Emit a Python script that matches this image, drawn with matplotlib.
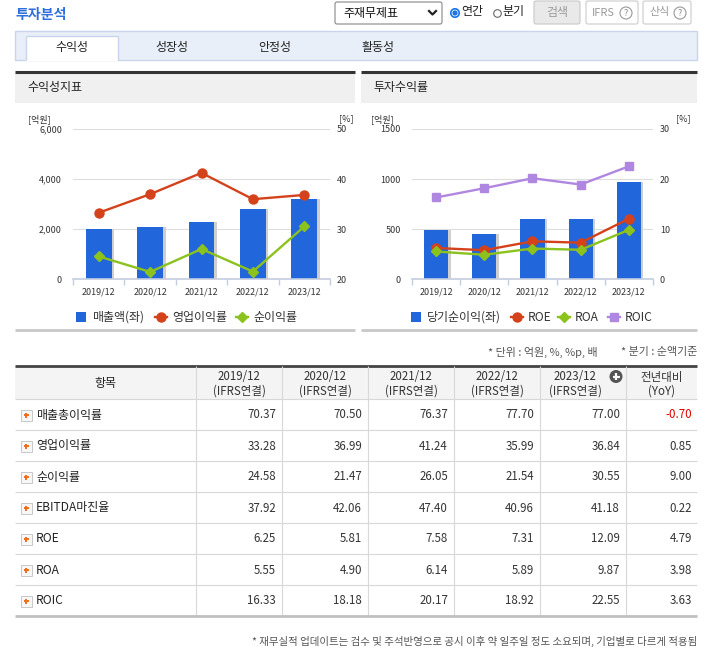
import numpy as np
import matplotlib
matplotlib.use('Agg')
import matplotlib.pyplot as plt
from matplotlib.patches import Rectangle, FancyBboxPatch, Circle

plt.rcParams['font.family'] = ['Noto Sans CJK KR', 'DejaVu Sans']

# ---- data ----
years = ['2019/12', '2020/12', '2021/12', '2022/12', '2023/12']
sales = [2015, 2105, 2300, 2795, 3190]          # 매출액 (억원)
net_income = [495, 450, 597, 602, 975]          # 당기순이익 (억원)
gross_margin = [70.37, 70.50, 76.37, 77.70, 77.00]
op_margin = [33.28, 36.99, 41.24, 35.99, 36.84]
net_margin = [24.58, 21.47, 26.05, 21.54, 30.55]
ebitda_margin = [37.92, 42.06, 47.40, 40.96, 41.18]
roe = [6.25, 5.81, 7.58, 7.31, 12.09]
roa = [5.55, 4.90, 6.14, 5.89, 9.87]
roic = [16.33, 18.18, 20.17, 18.92, 22.55]
yoy = ['-0.70', '0.85', '9.00', '0.22', '4.79', '3.98', '3.63']
row_names = ['매출총이익률', '영업이익률', '순이익률', 'EBITDA마진율', 'ROE', 'ROA', 'ROIC']

W, H = 709, 649
fig = plt.figure(figsize=(W / 100, H / 100), dpi=100)
bg = fig.add_axes([0, 0, 1, 1])
bg.set_xlim(0, W)
bg.set_ylim(H, 0)
bg.axis('off')

def fs(px):
    return px * 0.72

def rect(x, y, w, h, fc='none', ec='none', lw=0, z=1):
    bg.add_patch(Rectangle((x, y), w, h, facecolor=fc, edgecolor=ec, linewidth=lw, zorder=z))

def hline(y, x0, x1, c, lw, z=3):
    bg.plot([x0, x1], [y, y], color=c, lw=lw, solid_capstyle='butt', zorder=z)

def vline(x, y0, y1, c, lw, z=3):
    bg.plot([x, x], [y0, y1], color=c, lw=lw, solid_capstyle='butt', zorder=z)

def txt(x, y, s, size=12, color='#333333', ha='left', **kw):
    bg.text(x, y, s, fontsize=fs(size), color=color, ha=ha, va='center', zorder=5, **kw)

BLUE = '#2166db'
RED = '#d4421c'
GREEN = '#8cc21e'
PURPLE = '#b087e0'

# ---- top bar ----
txt(15, 15, '투자분석', 14, '#2f6fdc', weight='bold')
bg.add_patch(FancyBboxPatch((335, 2), 107, 22, boxstyle='round,pad=0,rounding_size=2',
                            fc='white', ec='#888888', lw=0.8, zorder=2))
txt(343, 13, '주재무제표', 12, '#111111')
bg.plot([429, 432.5, 436], [11, 14.5, 11], color='#222222', lw=1.6, zorder=5)
bg.add_patch(Circle((455, 13), 4.2, fc='white', ec='#1a73e8', lw=1.2, zorder=4))
bg.add_patch(Circle((455, 13), 2.6, fc='#1a73e8', ec='none', zorder=5))
txt(461, 12, '연간', 12, '#222222')
bg.add_patch(Circle((497.5, 13.5), 3.8, fc='white', ec='#666666', lw=0.8, zorder=4))
txt(502, 12, '분기', 12, '#222222')
bg.add_patch(FancyBboxPatch((534, 1), 46, 23, boxstyle='round,pad=0,rounding_size=2',
                            fc='#e9e9e9', ec='#c8c8c8', lw=0.8, zorder=2))
txt(557, 12.5, '검색', 12, '#9a9a9a', ha='center')
for x0, lab in [(586, 'IFRS'), (643, '산식')]:
    bg.add_patch(FancyBboxPatch((x0, 1), 52 if lab == 'IFRS' else 48, 23,
                                boxstyle='round,pad=0,rounding_size=2',
                                fc='white', ec='#cccccc', lw=0.8, zorder=2))
    txt(x0 + 6, 12.5, lab, 11, '#999999')
    cx = x0 + (40 if lab == 'IFRS' else 37)
    bg.add_patch(Circle((cx, 13), 6, fc='white', ec='#999999', lw=0.8, zorder=4))
    txt(cx, 13, '?', 9, '#888888', ha='center')

# ---- tabs ----
rect(15, 31, 682, 29, fc='#e9eff8', ec='#c9d5ea', lw=1)
rect(26, 36, 92, 25, fc='white', ec='none', z=2)
vline(26, 36, 60, '#c9d5ea', 1)
vline(118, 36, 60, '#c9d5ea', 1)
hline(36, 26, 118, '#c9d5ea', 1)
for cx, lab in [(72, '수익성'), (172, '성장성'), (275, '안정성'), (378, '활동성')]:
    txt(cx, 48, lab, 12, '#222222', ha='center')

# ---- section headers ----
for x0, x1, lab in [(15, 355, '수익성지표'), (361, 697, '투자수익률')]:
    rect(x0, 73, x1 - x0, 30, fc='#f0f0f0')
    hline(72, x0, x1, '#333333', 2.2)
    txt(x0 + 12, 88, lab, 12, '#222222')
    hline(330, x0, x1, '#c8c8c8', 2)

# ---- charts ----
def chart(left, right, bars, bmax, bticks, blabels, pmin, pmax, pticks, series):
    top, bottom = 129, 279.3
    ax = fig.add_axes([left / W, 1 - bottom / H, (right - left) / W, (bottom - top) / H])
    x = np.arange(len(years))
    ax.bar(x + 0.05, bars, width=0.5, color='#cfcfcf', zorder=1)
    ax.bar(x, bars, width=0.5, color=BLUE, zorder=2)
    ax.set_xlim(-0.5, len(years) - 0.5)
    ax.set_ylim(0, bmax)
    ax.set_yticks(bticks)
    ax.set_yticklabels(blabels)
    ax.set_xticks(x)
    ax.set_xticklabels(years)
    ax.set_xticks(np.arange(-0.5, len(years)), minor=True)
    ax.tick_params(axis='x', which='major', length=0, labelsize=fs(9), colors='#333333', pad=6)
    ax.tick_params(axis='x', which='minor', length=4, color='#c3cde0', width=1)
    ax.tick_params(axis='y', length=0, labelsize=fs(9), colors='#333333', pad=8)
    for s in ['top', 'left', 'right']:
        ax.spines[s].set_visible(False)
    ax.spines['bottom'].set_color('#c3cde0')
    ax.spines['bottom'].set_linewidth(1.2)
    for t in bticks[1:]:
        ax.axhline(t, color='#dddddd', lw=0.8, zorder=0)
    ax.patch.set_alpha(0)
    ax2 = ax.twinx()
    ax2.set_ylim(pmin, pmax)
    ax2.set_yticks(pticks)
    ax2.tick_params(axis='y', length=0, labelsize=fs(9), colors='#333333', pad=5)
    for s in ax2.spines.values():
        s.set_visible(False)
    for vals, col, mk, ms in series:
        ax2.plot(x, vals, color=col, lw=1.7, marker=mk, markersize=ms, zorder=4)
    return ax

chart(73, 330, sales, 6000, [0, 2000, 4000, 6000], ['0', '2,000', '4,000', '6,000'],
      20, 50, [20, 30, 40, 50],
      [(op_margin, RED, 'o', 6.5), (net_margin, GREEN, 'D', 5)])
chart(412, 653, net_income, 1500, [0, 500, 1000, 1500], ['0', '500', '1000', '1500'],
      0, 30, [0, 10, 20, 30],
      [(roe, RED, 'o', 6.5), (roa, GREEN, 'D', 5), (roic, PURPLE, 's', 6)])

txt(28, 119, '[억원]', 9, '#333333')
txt(339, 119, '[%]', 9, '#333333')
txt(371, 119, '[억원]', 9, '#333333')
txt(676, 119, '[%]', 9, '#333333')

# legends
def leg_bar(x, lab):
    rect(x, 312, 10, 10, fc=BLUE, z=4)
    txt(x + 16, 317.5, lab, 12, '#333333')

def leg_line(x, col, mk, ms, lab):
    bg.plot([x, x + 12], [317, 317], color=col, lw=1.7, zorder=4)
    bg.plot([x + 6], [317], marker=mk, color=col, markersize=ms, zorder=5)
    txt(x + 17, 317.5, lab, 12, '#333333')

leg_bar(76, '매출액(좌)')
leg_line(155, RED, 'o', 6.5, '영업이익률')
leg_line(236, GREEN, 'D', 5, '순이익률')
leg_bar(411, '당기순이익(좌)')
leg_line(511, RED, 'o', 6.5, 'ROE')
leg_line(558, GREEN, 'D', 5, 'ROA')
leg_line(608, PURPLE, 's', 6, 'ROIC')

# ---- table ----
txt(598, 352, '* 단위 : 억원, %, %p, 배', 11, '#555555', ha='right')
txt(697, 352, '* 분기 : 순액기준', 11, '#555555', ha='right')

edges = [15, 196, 282, 368, 454, 540, 626, 697]
top, head_b = 366, 399
row_h = 31
rect(15, top, 682, head_b - top, fc='#f4f4f4')
hline(top, 15, 697, '#444444', 2)
for e in edges[1:-1]:
    vline(e, top, head_b + row_h * len(row_names), '#d8d8d8', 0.8)
txt((edges[0] + edges[1]) / 2, 383, '항목', 12, '#222222', ha='center')
for i, y in enumerate(years):
    cx = (edges[i + 1] + edges[i + 2]) / 2
    if i == len(years) - 1:
        cx -= 8
    txt(cx, 377, y, 11.5, '#333333', ha='center')
    txt(cx, 391, '(IFRS연결)', 11.5, '#333333', ha='center')
cx = (edges[-2] + edges[-1]) / 2
txt(cx, 377, '전년대비', 11.5, '#333333', ha='center')
txt(cx, 391, '(YoY)', 11.5, '#333333', ha='center')
bg.add_patch(Circle((616, 376.5), 6.5, fc='#555555', ec='none', zorder=4))
hline(376.5, 612.5, 619.5, 'white', 1.6, z=6)
vline(616, 373, 380, 'white', 1.6, z=6)

table_cols = [gross_margin, op_margin, net_margin, ebitda_margin, roe, roa, roic]
for r, name in enumerate(row_names):
    y0 = head_b + r * row_h
    yc = y0 + row_h / 2 + 0.5
    hline(y0, 15, 697, '#d8d8d8', 0.8)
    rect(20.5, yc - 5.5, 11, 11, fc='#f7f7f7', ec='#c8c8c8', lw=0.7, z=4)
    hline(yc, 23.5, 28.5, '#f26c1a', 1.4, z=6)
    vline(26, yc - 2.5, yc + 2.5, '#f26c1a', 1.4, z=6)
    txt(36, yc, name, 12, '#222222')
    for c in range(len(years)):
        txt(edges[c + 2] - 6, yc, f'{table_cols[r][c]:.2f}', 11.5, '#333333', ha='right')
    col = '#e00000' if yoy[r].startswith('-') else '#333333'
    txt(edges[-1] - 5, yc, yoy[r], 11.5, col, ha='right')
hline(head_b + row_h * len(row_names), 15, 697, '#c0c0c0', 2)

txt(697, 641, '* 재무실적 업데이트는 검수 및 주석반영으로 공시 이후 약 일주일 정도 소요되며, 기업별로 다르게 적용됨',
    10.5, '#555555', ha='right')

fig.savefig('out.png', dpi=100)
